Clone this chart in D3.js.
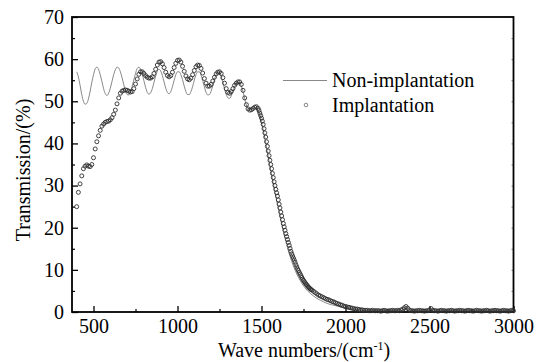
<!DOCTYPE html>
<html>
<head>
<meta charset="utf-8">
<script src="https://cdn.jsdelivr.net/npm/d3@7"></script>
<style>
  body { margin: 0; background: #fff; }
  text { font-family: "Liberation Serif", "Times New Roman", serif; fill: #000; }
</style>
</head>
<body>
<div id="chart"></div>
<script>
// wave numbers, cm-1, one reading every 10 (every 5 on the steep edge for the circles)
const waveNumbers = d3.range(400, 3001, 10);
const implantationWaves = d3.range(400, 1480, 10)
  .concat(d3.range(1480, 1800, 5))
  .concat(d3.range(1800, 3001, 10));

const nonImplantation = [
  57.0, 55.8, 53.8, 51.6, 50.0, 49.3, 49.5, 50.6, 52.4, 54.5,
  56.3, 57.7, 58.1, 57.6, 56.3, 54.7, 53.0, 51.8, 51.4, 51.9,
  53.1, 54.7, 56.3, 57.5, 58.1, 57.9, 57.0, 55.6, 54.0, 52.5,
  51.6, 51.5, 52.2, 53.5, 55.1, 56.6, 57.8, 58.1, 57.6, 56.4,
  54.9, 53.3, 52.1, 51.7, 52.0, 53.0, 54.5, 56.0, 57.2, 57.6,
  57.2, 56.1, 54.6, 53.1, 52.1, 51.8, 52.3, 53.5, 55.0, 56.3,
  57.0, 57.0, 56.3, 55.1, 53.6, 52.3, 51.6, 51.6, 52.3, 53.5,
  55.0, 56.3, 57.0, 57.0, 56.2, 54.9, 53.4, 52.1, 51.5, 51.6,
  52.4, 53.7, 55.2, 56.4, 57.0, 56.8, 55.9, 54.5, 52.9, 51.6,
  50.8, 50.7, 51.3, 52.4, 53.5, 54.3, 54.5, 54.3, 53.6, 52.3,
  50.6, 49.1, 48.3, 48.0, 48.1, 48.3, 48.5, 48.3, 47.6, 46.5,
  45.0, 43.2, 41.2, 39.0, 36.8, 34.6, 32.5, 30.4, 28.4, 26.5,
  24.6, 22.7, 20.9, 19.1, 17.5, 16.0, 14.5, 13.2, 12.0, 10.9,
  9.9, 9.0, 8.2, 7.5, 6.8, 6.2, 5.7, 5.2, 4.8, 4.4,
  4.1, 3.8, 3.5, 3.2, 3.0, 2.8, 2.6, 2.4, 2.2, 2.1,
  1.9, 1.8, 1.7, 1.6, 1.5, 1.4, 1.3, 1.2, 1.1, 1.0,
  0.9, 0.9, 0.8, 0.7, 0.7, 0.6, 0.6, 0.5, 0.5, 0.5,
  0.4, 0.4, 0.4, 0.4, 0.4, 0.4, 0.4, 0.4, 0.4, 0.4,
  0.3, 0.3, 0.3, 0.3, 0.3, 0.3, 0.3, 0.3, 0.3, 0.3,
  0.3, 0.3, 0.3, 0.3, 0.3, 0.4, 0.5, 0.4, 0.3, 0.3,
  0.3, 0.3, 0.3, 0.3, 0.3, 0.3, 0.3, 0.3, 0.3, 0.3,
  0.3, 0.3, 0.3, 0.3, 0.3, 0.3, 0.3, 0.3, 0.3, 0.3,
  0.3, 0.3, 0.3, 0.3, 0.3, 0.3, 0.3, 0.3, 0.3, 0.3,
  0.3, 0.3, 0.3, 0.3, 0.3, 0.3, 0.3, 0.3, 0.3, 0.3,
  0.3, 0.3, 0.3, 0.3, 0.3, 0.3, 0.3, 0.3, 0.3, 0.3,
  0.3, 0.3, 0.3, 0.3, 0.3, 0.3, 0.3, 0.3, 0.3, 0.3,
  0.3
];

const implantation = [
  // 400 - 1470, step 10
  25.0, 28.4, 30.4, 32.3, 34.0, 34.6, 34.9, 34.6, 34.5, 35.0,
  36.6, 38.7, 40.4, 41.8, 43.1, 44.1, 44.6, 45.0, 45.2, 45.3,
  45.6, 46.1, 46.9, 47.9, 49.4, 50.8, 51.9, 52.4, 52.6, 52.7,
  52.6, 52.4, 52.2, 52.3, 53.0, 54.1, 55.3, 56.4, 57.0, 57.0,
  56.6, 56.1, 55.7, 55.5, 55.5, 55.8, 56.6, 57.6, 58.6, 59.3,
  59.4, 58.9, 58.0, 56.9, 56.1, 55.8, 56.1, 56.9, 58.0, 59.0,
  59.7, 59.8, 59.3, 58.3, 57.1, 56.0, 55.3, 55.1, 55.5, 56.3,
  57.3, 58.2, 58.6, 58.5, 57.8, 56.7, 55.4, 54.3, 53.6, 53.6,
  54.0, 54.8, 55.7, 56.5, 56.9, 57.0, 56.6, 55.6, 54.3, 53.0,
  52.1, 51.9, 52.3, 53.0, 53.8, 54.3, 54.6, 54.6, 54.0, 52.6,
  50.8, 49.2, 48.2, 47.9, 48.0, 48.3, 48.6, 48.7,
  // 1480 - 1795, step 5
  48.3, 47.8, 47.2, 46.6, 46.0, 45.3, 44.5, 43.5, 42.5, 41.5,
  40.4, 39.3, 38.2, 37.1, 36.0, 35.0, 34.0, 32.9, 31.9, 30.9,
  30.0, 29.1, 28.3, 27.5, 26.6, 25.6, 24.7, 23.7, 22.8, 21.9,
  21.0, 20.2, 19.4, 18.6, 17.9, 17.2, 16.5, 15.8, 15.1, 14.4,
  13.8, 13.3, 12.8, 12.3, 11.8, 11.2, 10.7, 10.2, 9.8, 9.4,
  9.0, 8.6, 8.2, 7.8, 7.5, 7.2, 6.9, 6.6, 6.4, 6.1,
  5.9, 5.7, 5.5, 5.3,
  // 1800 - 3000, step 10
  5.2, 4.9, 4.6, 4.3, 4.0, 3.8, 3.6, 3.4, 3.2, 3.0,
  2.9, 2.7, 2.5, 2.4, 2.2, 2.0, 1.9, 1.7, 1.6, 1.4,
  1.3, 1.2, 1.1, 1.0, 0.9, 0.8, 0.7, 0.7, 0.6, 0.5,
  0.5, 0.4, 0.4, 0.4, 0.3, 0.3, 0.4, 0.3, 0.3, 0.3,
  0.3, 0.2, 0.3, 0.4, 0.3, 0.2, 0.3, 0.3, 0.4, 0.3,
  0.3, 0.4, 0.3, 0.5, 0.6, 1.0, 1.3, 0.9, 0.5, 0.3,
  0.3, 0.2, 0.3, 0.3, 0.4, 0.3, 0.3, 0.2, 0.3, 0.3,
  0.5, 0.8, 0.4, 0.3, 0.3, 0.2, 0.3, 0.4, 0.3, 0.3,
  0.2, 0.3, 0.3, 0.4, 0.3, 0.2, 0.3, 0.3, 0.4, 0.3,
  0.3, 0.2, 0.3, 0.4, 0.3, 0.3, 0.2, 0.3, 0.4, 0.3,
  0.3, 0.2, 0.3, 0.3, 0.4, 0.3, 0.2, 0.3, 0.3, 0.4,
  0.3, 0.3, 0.2, 0.3, 0.4, 0.3, 0.3, 0.2, 0.3, 0.4,
  0.3
];

const xTicks = [500, 1000, 1500, 2000, 2500, 3000];
const xMinorTicks = [750, 1250, 1750, 2250, 2750];
const yTicks = [0, 10, 20, 30, 40, 50, 60, 70];
const yMinorTicks = [5, 15, 25, 35, 45, 55, 65];

const width = 550, height = 362;
const plotLeft = 72, plotRight = 513.5, plotTop = 17, plotBottom = 312;

const svg = d3.select('#chart')
  .append('svg')
  .attr('width', width)
  .attr('height', height);

const x = d3.scaleLinear().domain([372, 3000]).range([plotLeft, plotRight]);
const y = d3.scaleLinear().domain([0, 70]).range([plotBottom, plotTop]);

// x axis, ticks pointing inward
const xAxis = svg.append('g')
  .attr('transform', 'translate(0,' + plotBottom + ')')
  .call(d3.axisBottom(x).tickValues(xTicks).tickSize(-6).tickPadding(7).tickFormat(d3.format('d')));
xAxis.select('.domain').remove();
xAxis.selectAll('text').style('font-size', '20px');
xAxis.selectAll('line').attr('stroke-width', 1.3);

const xMinor = svg.append('g')
  .attr('transform', 'translate(0,' + plotBottom + ')')
  .call(d3.axisBottom(x).tickValues(xMinorTicks).tickSize(-3).tickFormat(''));
xMinor.select('.domain').remove();
xMinor.selectAll('line').attr('stroke-width', 1.2);

// y axis
const yAxis = svg.append('g')
  .attr('transform', 'translate(' + plotLeft + ',0)')
  .call(d3.axisLeft(y).tickValues(yTicks).tickSize(-6).tickPadding(8));
yAxis.select('.domain').remove();
yAxis.selectAll('text').style('font-size', '20px');
yAxis.selectAll('line').attr('stroke-width', 1.3);

const yMinor = svg.append('g')
  .attr('transform', 'translate(' + plotLeft + ',0)')
  .call(d3.axisLeft(y).tickValues(yMinorTicks).tickSize(-3).tickFormat(''));
yMinor.select('.domain').remove();
yMinor.selectAll('line').attr('stroke-width', 1.2);

// small ticks on the right edge
const yRight = svg.append('g')
  .attr('transform', 'translate(' + plotRight + ',0)')
  .call(d3.axisRight(y).tickValues(yMinorTicks.concat(yTicks)).tickSize(-2).tickFormat(''));
yRight.select('.domain').remove();
yRight.selectAll('line').attr('stroke', '#666').attr('stroke-width', 0.8);

// frame
svg.append('rect')
  .attr('x', plotLeft)
  .attr('y', plotTop)
  .attr('width', plotRight - plotLeft)
  .attr('height', plotBottom - plotTop)
  .attr('fill', 'none')
  .attr('stroke', '#000')
  .attr('stroke-width', 1.8);

// non-implantation line
const line = d3.line()
  .x((d, i) => x(waveNumbers[i]))
  .y(d => y(d))
  .curve(d3.curveMonotoneX);

svg.append('path')
  .datum(nonImplantation)
  .attr('d', line)
  .attr('fill', 'none')
  .attr('stroke', '#6a6a6a')
  .attr('stroke-width', 0.8);

// implantation open circles
svg.append('g')
  .selectAll('circle')
  .data(implantation)
  .enter()
  .append('circle')
  .attr('cx', (d, i) => x(implantationWaves[i]))
  .attr('cy', d => y(d))
  .attr('r', 2)
  .attr('fill', 'none')
  .attr('stroke', '#2e2e2e')
  .attr('stroke-width', 0.9);

// legend
svg.append('line')
  .attr('x1', 283).attr('x2', 327)
  .attr('y1', 80.5).attr('y2', 80.5)
  .attr('stroke', '#6a6a6a')
  .attr('stroke-width', 0.8);
svg.append('text')
  .attr('x', 332).attr('y', 87)
  .style('font-size', '20px')
  .text('Non-implantation');
svg.append('circle')
  .attr('cx', 306).attr('cy', 105)
  .attr('r', 1.8)
  .attr('fill', 'none')
  .attr('stroke', '#555')
  .attr('stroke-width', 0.7);
svg.append('text')
  .attr('x', 332).attr('y', 112)
  .style('font-size', '20px')
  .text('Implantation');

// axis titles
const xTitle = svg.append('text')
  .attr('x', 304).attr('y', 357)
  .attr('text-anchor', 'middle')
  .style('font-size', '20px');
xTitle.append('tspan').text('Wave numbers/(cm');
xTitle.append('tspan').attr('dy', -7).style('font-size', '12px').text('-1');
xTitle.append('tspan').attr('dy', 7).text(')');

svg.append('text')
  .attr('transform', 'translate(30,170) rotate(-90)')
  .attr('text-anchor', 'middle')
  .style('font-size', '20px')
  .text('Transmission/(%)');
</script>
</body>
</html>
